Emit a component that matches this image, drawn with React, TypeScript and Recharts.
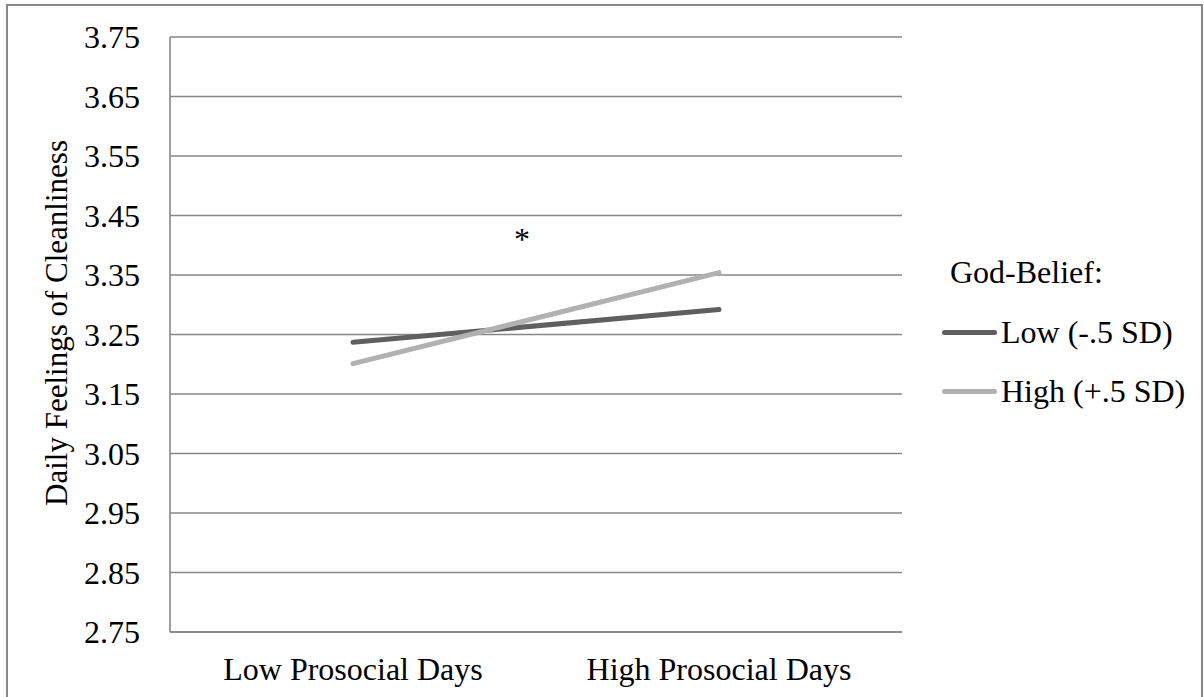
import { LineChart, Line, XAxis, YAxis, CartesianGrid, Legend } from 'recharts'

const categories = ['Low Prosocial Days', 'High Prosocial Days']
const lowBelief = [3.237, 3.292]
const highBelief = [3.201, 3.354]
const yTicks = [2.75, 2.85, 2.95, 3.05, 3.15, 3.25, 3.35, 3.45, 3.55, 3.65, 3.75]
const seriesNames = ['Low (-.5 SD)', 'High (+.5 SD)']
const legendTitle = 'God-Belief:'
const yTitle = 'Daily Feelings of Cleanliness'
const note = '*'

const FONT = "'Liberation Serif', 'Times New Roman', serif"
const GRID = '#878787'

const chartData = categories.map((c, i) => ({
  cat: c,
  low: lowBelief[i],
  high: highBelief[i],
}))

function LegendBox({ payload }: any) {
  const items = [...(payload || [])].sort(
    (a: any, b: any) => seriesNames.indexOf(a.value) - seriesNames.indexOf(b.value)
  )
  return (
    <div style={{ fontFamily: FONT, fontSize: 32, color: '#000' }}>
      <div style={{ height: 59.4, display: 'flex', alignItems: 'center', paddingLeft: 8 }}>
        {legendTitle}
      </div>
      {items.map((p: any) => (
        <div key={p.value} style={{ height: 59.4, display: 'flex', alignItems: 'center' }}>
          <span
            style={{
              display: 'inline-block',
              width: 55,
              height: 5,
              borderRadius: 3,
              background: p.color,
              marginRight: 4,
            }}
          />
          <span style={{ whiteSpace: 'nowrap' }}>{p.value}</span>
        </div>
      ))}
    </div>
  )
}

export default function App() {
  return (
    <div
      style={{
        position: 'absolute',
        left: 0,
        top: 0,
        width: 1204,
        height: 697,
        background: '#fff',
        overflow: 'hidden',
        fontFamily: FONT,
      }}
    >
      <div
        style={{
          position: 'absolute',
          left: 6,
          top: 4,
          width: 1193,
          height: 760,
          border: `2px solid ${GRID}`,
        }}
      />
      <LineChart
        width={1204}
        height={697}
        data={chartData}
        margin={{ top: 37, right: 302, bottom: 0, left: 0 }}
        style={{ position: 'absolute', left: 0, top: 0, fontFamily: FONT }}
      >
        <CartesianGrid vertical={false} stroke={GRID} strokeWidth={1.6} />
        <XAxis
          dataKey="cat"
          height={65}
          padding={{ left: 183, right: 183 }}
          axisLine={{ stroke: GRID, strokeWidth: 1.6 }}
          tickLine={false}
          tickSize={0}
          tickMargin={25}
          tick={{ fontSize: 32, fill: '#000', fontFamily: FONT }}
        />
        <YAxis
          width={170}
          domain={[2.75, 3.75]}
          ticks={yTicks}
          interval={0}
          axisLine={{ stroke: GRID, strokeWidth: 1.6 }}
          tickLine={false}
          tickSize={0}
          tickMargin={30}
          tickFormatter={(v: number) => v.toFixed(2)}
          tick={{ fontSize: 32, fill: '#000', fontFamily: FONT }}
          label={{
            content: () => (
              <text
                x={56}
                y={323}
                transform="rotate(-90, 56, 323)"
                textAnchor="middle"
                dominantBaseline="central"
                fontSize={31}
                fontFamily={FONT}
                fill="#000"
              >
                {yTitle}
              </text>
            ),
          }}
        />
        <Legend
          layout="horizontal"
          align="center"
          verticalAlign="middle"
          content={<LegendBox />}
          wrapperStyle={{ position: 'absolute', left: 942, top: 243, width: 262 }}
        />
        <Line
          type="linear"
          dataKey="low"
          name={seriesNames[0]}
          stroke="#5f5f5f"
          strokeWidth={5}
          strokeLinecap="round"
          dot={false}
          activeDot={false}
          isAnimationActive={false}
        />
        <Line
          type="linear"
          dataKey="high"
          name={seriesNames[1]}
          stroke="#b1b1b1"
          strokeWidth={5}
          strokeLinecap="round"
          dot={false}
          activeDot={false}
          isAnimationActive={false}
        />
      </LineChart>
      <div
        style={{
          position: 'absolute',
          left: 522,
          top: 233,
          transform: 'translate(-50%, -30%)',
          fontSize: 32,
          lineHeight: 1,
          color: '#000',
        }}
      >
        {note}
      </div>
    </div>
  )
}
